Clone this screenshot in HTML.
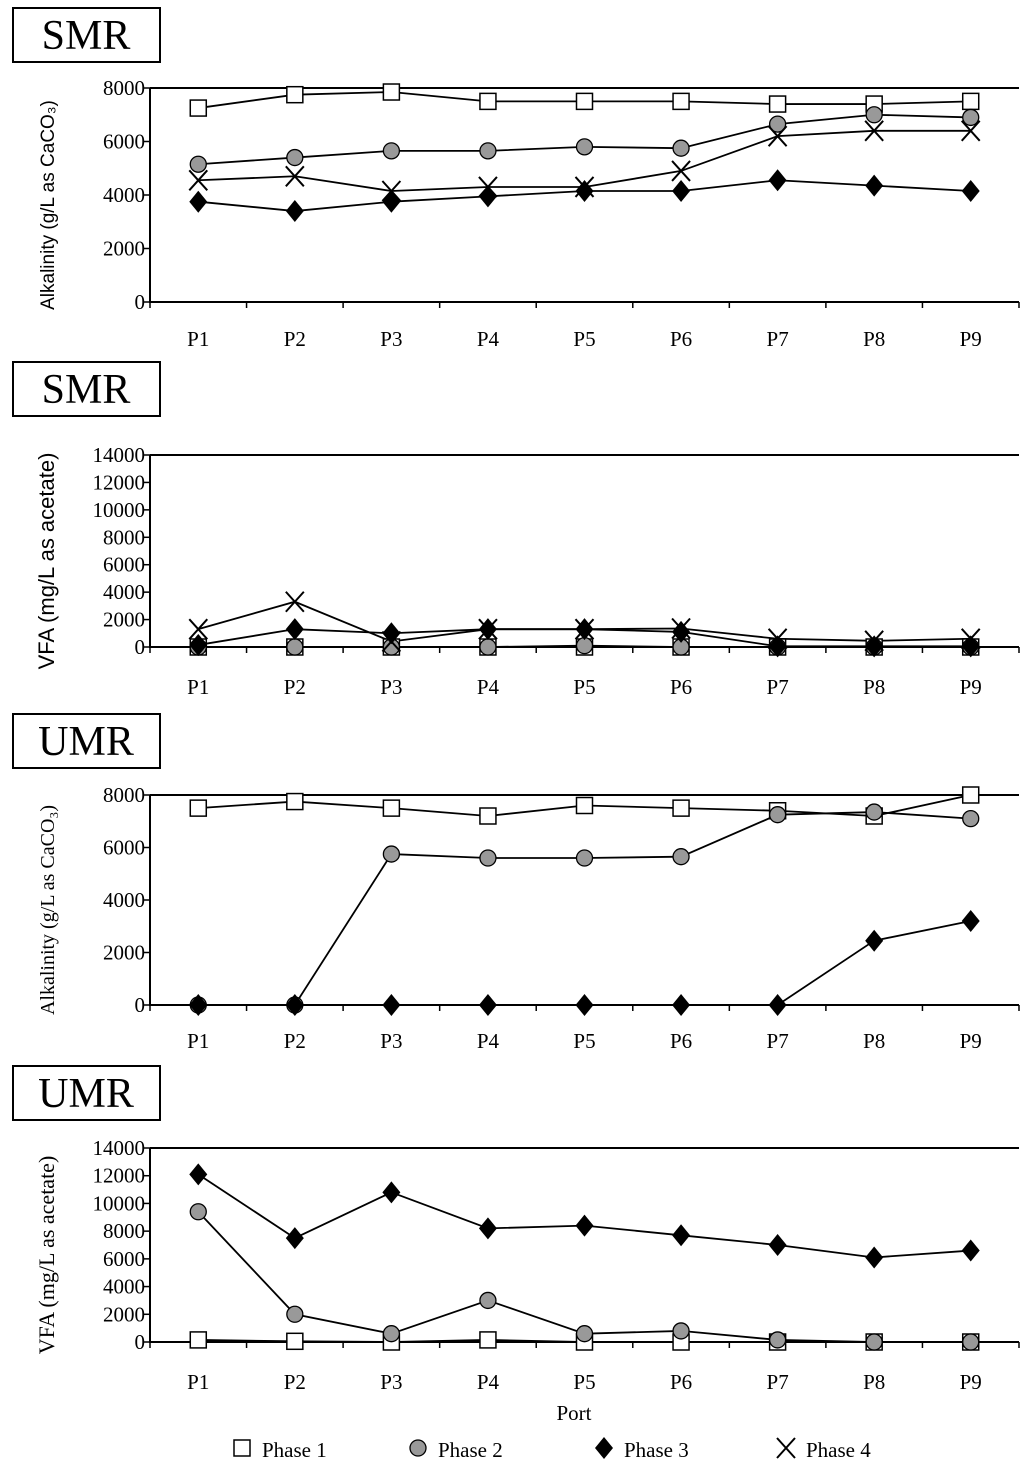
<!DOCTYPE html>
<html><head><meta charset="utf-8"><style>
body{margin:0;background:#fff;width:1024px;height:1471px;overflow:hidden}
svg{display:block;font-family:"Liberation Serif",serif}
</style></head><body>
<svg id="svg" width="1024" height="1471" viewBox="0 0 1024 1471"></svg>
<script>
const categories=["P1","P2","P3","P4","P5","P6","P7","P8","P9"];
const smrAlkP1=[7250,7750,7850,7500,7500,7500,7400,7400,7500];
const smrAlkP2=[5150,5400,5650,5650,5800,5750,6650,7000,6900];
const smrAlkP3=[3750,3400,3750,3950,4150,4150,4550,4350,4150];
const smrAlkP4=[4550,4700,4150,4300,4300,4900,6200,6400,6400];
const smrVfaP1=[0,0,0,0,0,0,0,0,0];
const smrVfaP2=[0,0,0,0,100,0,0,0,0];
const smrVfaP3=[150,1300,1000,1300,1300,1100,50,50,50];
const smrVfaP4=[1300,3300,400,1300,1300,1350,600,450,600];
const umrAlkP1=[7500,7750,7500,7200,7600,7500,7400,7200,8000];
const umrAlkP2=[0,0,5750,5600,5600,5650,7250,7350,7100];
const umrAlkP3=[0,0,0,0,0,0,0,2450,3200];
const umrVfaP1=[150,50,0,150,0,0,0,0,0];
const umrVfaP2=[9400,2000,600,3000,600,800,150,0,0];
const umrVfaP3=[12100,7500,10800,8200,8400,7700,7000,6100,6600];
const alkTicks=[0,2000,4000,6000,8000];
const vfaTicks=[0,2000,4000,6000,8000,10000,12000,14000];

const NS="http://www.w3.org/2000/svg";
const svg=document.getElementById('svg');
function mk(tag,attrs,parent){const e=document.createElementNS(NS,tag);for(const k in attrs)e.setAttribute(k,attrs[k]);(parent||svg).appendChild(e);return e;}

function marker(g,type,x,y){
  let e;
  if(type==='sq')e=mk('rect',{x:x-8,y:y-8,width:16,height:16,fill:'#fff',stroke:'#000','stroke-width':1.5},g);
  else if(type==='ci')e=mk('circle',{cx:x,cy:y,r:8,fill:'#999',stroke:'#000','stroke-width':1.3},g);
  else if(type==='di')e=mk('polygon',{points:`${x},${y-11} ${x+9},${y} ${x},${y+11} ${x-9},${y}`,fill:'#000'},g);
  else e=mk('path',{d:`M${x-9},${y-10}L${x+9},${y+10}M${x-9},${y+10}L${x+9},${y-10}`,stroke:'#000','stroke-width':2,fill:'none'},g);
  
  
}

function chart(o){
  const g=mk('g',{});
  
  
  const L=150,R=1019,top=o.top,bot=o.bot,max=o.ticks[o.ticks.length-1];
  const xs=i=>L+(i+0.5)*(R-L)/categories.length;
  const ys=v=>bot-(v/max)*(bot-top);
  // title box
  const tb=mk('g',{},g);
  
  
  mk('rect',{x:13,y:o.ty,width:147,height:54,fill:'#fff',stroke:'#000','stroke-width':2},tb);
  const tt=mk('text',{x:86,y:o.ty+41,'text-anchor':'middle','font-size':42},tb);tt.textContent=o.title;
  // axes
  const ax=mk('path',{d:`M${L},${top}L${R},${top}M${L},${top}L${L},${bot}L${R},${bot}`,stroke:'#000','stroke-width':2,fill:'none'},g);
  
  
  for(let i=0;i<=categories.length;i++){const x=L+i*(R-L)/categories.length;mk('line',{x1:x,y1:bot,x2:x,y2:bot+6,stroke:'#000','stroke-width':1.5},g);}
  o.ticks.forEach(t=>{const y=ys(t);mk('line',{x1:L-6,y1:y,x2:L,y2:y,stroke:'#000','stroke-width':1.5},g);
    const tx=mk('text',{x:L-5,y:y+7,'text-anchor':'end','font-size':21},g);tx.textContent=t;
    
    });
  categories.forEach((c,i)=>{const tx=mk('text',{x:xs(i),y:o.lab,'text-anchor':'middle','font-size':21},g);tx.textContent=c;
    
    });
  const yt=mk('text',{transform:`translate(54,${(top+bot)/2+10}) rotate(-90)`,'text-anchor':'middle','font-size':o.yfs,'font-family':o.yff},g);
  yt.textContent=o.ytitle;
  
  
  o.series.forEach(s=>{
    const sg=mk('g',{},g);
    
    
    mk('polyline',{points:s.v.map((v,i)=>xs(i)+','+ys(v)).join(' '),fill:'none',stroke:'#000','stroke-width':1.8},sg);
  });
  o.series.forEach(s=>{s.v.forEach((v,i)=>marker(g,s.type,xs(i),ys(v)));});
}
chart({name:'smr-alkalinity-chart',title:'SMR',ty:8,top:88,bot:302,lab:346,ticks:alkTicks,ytitle:'Alkalinity (g/L as CaCO\u2083)',yfs:19,yff:'"Liberation Sans",sans-serif',
 series:[{type:'sq',v:smrAlkP1},{type:'ci',v:smrAlkP2},{type:'di',v:smrAlkP3},{type:'x',v:smrAlkP4}]});
chart({name:'smr-vfa-chart',title:'SMR',ty:362,top:455,bot:647,lab:694,ticks:vfaTicks,ytitle:'VFA (mg/L as acetate)',yfs:22,yff:'"Liberation Sans",sans-serif',
 series:[{type:'sq',v:smrVfaP1},{type:'ci',v:smrVfaP2},{type:'di',v:smrVfaP3},{type:'x',v:smrVfaP4}]});
chart({name:'umr-alkalinity-chart',title:'UMR',ty:714,top:795,bot:1005,lab:1048,ticks:alkTicks,ytitle:'Alkalinity (g/L as CaCO\u2083)',yfs:20,yff:'"Liberation Serif",serif',
 series:[{type:'sq',v:umrAlkP1},{type:'ci',v:umrAlkP2},{type:'di',v:umrAlkP3}]});
chart({name:'umr-vfa-chart',title:'UMR',ty:1066,top:1148,bot:1342,lab:1389,ticks:vfaTicks,ytitle:'VFA (mg/L as acetate)',yfs:22,yff:'"Liberation Serif",serif',
 series:[{type:'sq',v:umrVfaP1},{type:'ci',v:umrVfaP2},{type:'di',v:umrVfaP3}]});
const xt=mk('text',{x:574,y:1420,'text-anchor':'middle','font-size':21});xt.textContent='Port';


const lg=mk('g',{});


[['sq',242,'Phase 1'],['ci',418,'Phase 2'],['di',604,'Phase 3'],['x',786,'Phase 4']].forEach(([t,x,l])=>{
  const eg=mk('g',{},lg);
  
  
  marker(eg,t,x,1448);
  const tx=mk('text',{x:x+20,y:1457,'font-size':21},eg);tx.textContent=l;
});
</script>
</body></html>
